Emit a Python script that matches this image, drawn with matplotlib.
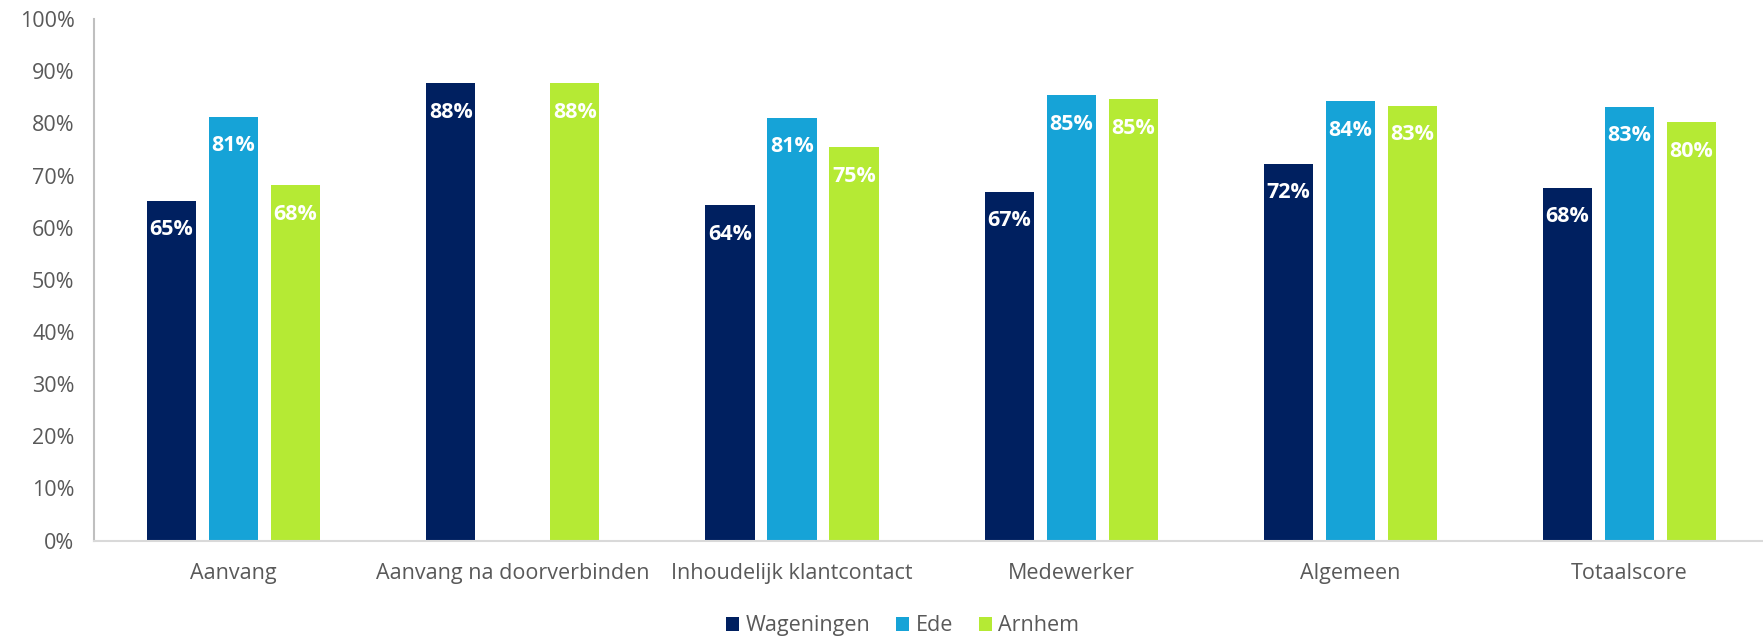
import matplotlib
matplotlib.use("Agg")
import matplotlib.pyplot as plt
import numpy as np

plt.rcParams['font.family'] = ['Open Sans', 'DejaVu Sans']

categories = ['Aanvang', 'Aanvang na doorverbinden', 'Inhoudelijk klantcontact',
              'Medewerker', 'Algemeen', 'Totaalscore']
wageningen = [65.2, 87.7, 64.3, 66.9, 72.3, 67.7]
ede = [81.3, np.nan, 81.1, 85.4, 84.3, 83.2]
arnhem = [68.2, 87.7, 75.4, 84.7, 83.4, 80.2]

series = [('Wageningen', wageningen, '#002060'),
          ('Ede', ede, '#16A3D7'),
          ('Arnhem', arnhem, '#B5EA34')]

grey = '#595959'

fig = plt.figure(figsize=(17.63, 6.36), dpi=100)
# x axis runs slightly past the right edge of the figure
ax = fig.add_axes([0.0533, 0.1500, 0.9502, 0.8200])

x = np.arange(len(categories))
step = 0.222
width = 0.176

for k, (name, vals, col) in enumerate(series):
    pos = x + (k - 1) * step
    bars = ax.bar(pos, vals, width, color=col, label=name, zorder=2)
    for rect, v in zip(bars, vals):
        if np.isnan(v):
            continue
        ax.annotate('{:.0f}%'.format(v),
                    xy=(rect.get_x() + rect.get_width() / 2, v),
                    xytext=(0, -21), textcoords='offset points',
                    ha='center', va='center', color='white',
                    fontsize=15.5, fontweight='bold')

ax.set_xlim(-0.5, len(categories) - 0.5)
ax.set_ylim(0, 100)
ax.set_yticks(np.arange(0, 101, 10))
ax.set_yticklabels(['{}%'.format(t) for t in range(0, 101, 10)])
ax.set_xticks(x)
ax.set_xticklabels(categories)
ax.tick_params(axis='both', length=0, labelsize=15.5, labelcolor=grey)
ax.tick_params(axis='y', pad=14)
ax.tick_params(axis='x', pad=16)

for side in ['top', 'right']:
    ax.spines[side].set_visible(False)
ax.spines['left'].set_color('#BFBFBF')
ax.spines['left'].set_linewidth(1.5)
ax.spines['bottom'].set_color('#D9D9D9')
ax.spines['bottom'].set_linewidth(1.5)

fig.legend(loc='center', bbox_to_anchor=(0.512, 0.016), ncol=3, frameon=False,
           fontsize=15.5, labelcolor=grey, handlelength=0.6, handleheight=0.6,
           handletextpad=0.3, columnspacing=1.2)

fig.savefig('out.png', dpi=100)
